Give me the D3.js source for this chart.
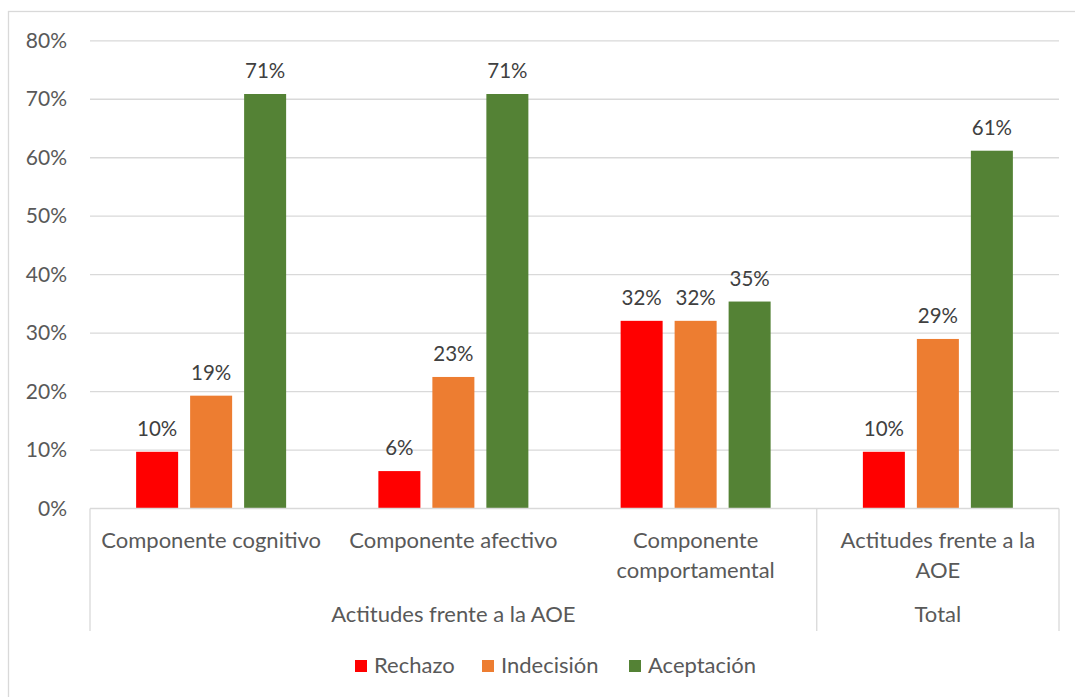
<!DOCTYPE html>
<html>
<head>
<meta charset="utf-8">
<script src="https://cdn.jsdelivr.net/npm/d3@7/dist/d3.min.js"></script>
<style>
  html, body { margin: 0; padding: 0; background: #fff; }
  svg { display: block; }
  text { font-family: Lato, "Noto Sans", sans-serif; }
</style>
</head>
<body>
<svg id="chart" width="1075" height="697"></svg>
<script>
// Categories (inner level) and their group (outer level)
const categories = ["Componente cognitivo", "Componente afectivo", "Componente comportamental", "Actitudes frente a la AOE"];
const categoryLines = [["Componente cognitivo"], ["Componente afectivo"], ["Componente", "comportamental"], ["Actitudes frente a la", "AOE"]];
const groups = ["Actitudes frente a la AOE", "Total"];
const groupSpans = [3, 1];

// Series
const series = ["Rechazo", "Indecisión", "Aceptación"];
const rechazo    = [0.097, 0.064, 0.321, 0.097];
const indecision = [0.193, 0.225, 0.321, 0.290];
const aceptacion = [0.709, 0.709, 0.354, 0.612];
const seriesValues = [rechazo, indecision, aceptacion];
const colors = ["#FF0000", "#ED7D31", "#548235"];

const yTicks = [0, 0.1, 0.2, 0.3, 0.4, 0.5, 0.6, 0.7, 0.8];

const svg = d3.select("#chart");

// outer chart border
svg.append("rect")
  .attr("x", 8.5).attr("y", 11.5)
  .attr("width", 1080).attr("height", 700)
  .attr("fill", "#fff").attr("stroke", "#D9D9D9").attr("stroke-width", 1.3);

const plot = { left: 90, right: 1059, top: 40.8, bottom: 508.5 };

const x = d3.scaleBand().domain(categories).range([plot.left, plot.right]).padding(0);
const y = d3.scaleLinear().domain([0, 0.8]).range([plot.bottom, plot.top]);
const xs = d3.scaleBand().domain(series).range([-75, 75]).paddingInner(0.222).paddingOuter(0);

// gridlines
svg.append("g").selectAll("line").data(yTicks.slice(1)).join("line")
  .attr("x1", plot.left).attr("x2", plot.right)
  .attr("y1", d => y(d)).attr("y2", d => y(d))
  .attr("stroke", "#D9D9D9").attr("stroke-width", 1.3);

// y-axis labels
const yAxis = d3.axisLeft(y).tickValues(yTicks).tickFormat(d3.format(".0%")).tickSize(0).tickPadding(0);
const ya = svg.append("g").attr("transform", `translate(${67},0)`).call(yAxis);
ya.select(".domain").remove();
ya.selectAll("text").attr("font-size", 21).attr("fill", "#595959")
  .attr("font-family", "Lato, 'Noto Sans', sans-serif");

// bars
const rows = [];
categories.forEach((c, i) => series.forEach((s, j) => rows.push({ c, s, j, v: seriesValues[j][i] })));

svg.append("g").selectAll("rect").data(rows).join("rect")
  .attr("x", d => x(d.c) + x.bandwidth() / 2 + xs(d.s))
  .attr("width", xs.bandwidth())
  .attr("y", d => y(d.v))
  .attr("height", d => y(0) - y(d.v))
  .attr("fill", d => colors[d.j]);

// data labels
svg.append("g").selectAll("text").data(rows).join("text")
  .attr("x", d => x(d.c) + x.bandwidth() / 2 + xs(d.s) + xs.bandwidth() / 2)
  .attr("y", d => y(d.v) - 16)
  .attr("text-anchor", "middle")
  .attr("font-size", 20.5).attr("fill", "#404040")
  .text(d => d3.format(".0%")(d.v));

// horizontal axis line
svg.append("line")
  .attr("x1", plot.left).attr("x2", plot.right)
  .attr("y1", plot.bottom).attr("y2", plot.bottom)
  .attr("stroke", "#D9D9D9").attr("stroke-width", 1.3);

// group separators of the multi-level axis
let acc = 0;
const bounds = [plot.left];
groupSpans.forEach(n => { acc += n; bounds.push(x.range()[0] + acc * x.step()); });
svg.append("g").selectAll("line").data(bounds).join("line")
  .attr("x1", d => d).attr("x2", d => d)
  .attr("y1", plot.bottom).attr("y2", 631)
  .attr("stroke", "#D9D9D9").attr("stroke-width", 1.3);

// inner category labels
const cl = svg.append("g").selectAll("text").data(categories).join("text")
  .attr("x", d => x(d) + x.bandwidth() / 2)
  .attr("y", 548)
  .attr("text-anchor", "middle")
  .attr("font-size", 22).attr("fill", "#595959");
cl.each(function (d, i) {
  d3.select(this).selectAll("tspan").data(categoryLines[i]).join("tspan")
    .attr("x", x(d) + x.bandwidth() / 2)
    .attr("dy", (t, k) => k === 0 ? 0 : 30)
    .text(t => t);
});

// outer group labels
svg.append("g").selectAll("text").data(groups).join("text")
  .attr("x", (d, i) => (bounds[i] + bounds[i + 1]) / 2)
  .attr("y", 622)
  .attr("text-anchor", "middle")
  .attr("font-size", 22).attr("fill", "#595959")
  .text(d => d);

// legend
const legendX = [355, 482, 629];
const lg = svg.append("g").selectAll("g").data(series).join("g")
  .attr("transform", (d, i) => `translate(${legendX[i]},660)`);
lg.append("rect").attr("width", 12).attr("height", 12).attr("fill", (d, i) => colors[i]);
lg.append("text").attr("x", 19).attr("y", 13)
  .attr("font-size", 22).attr("fill", "#595959").text(d => d);
</script>
</body>
</html>
